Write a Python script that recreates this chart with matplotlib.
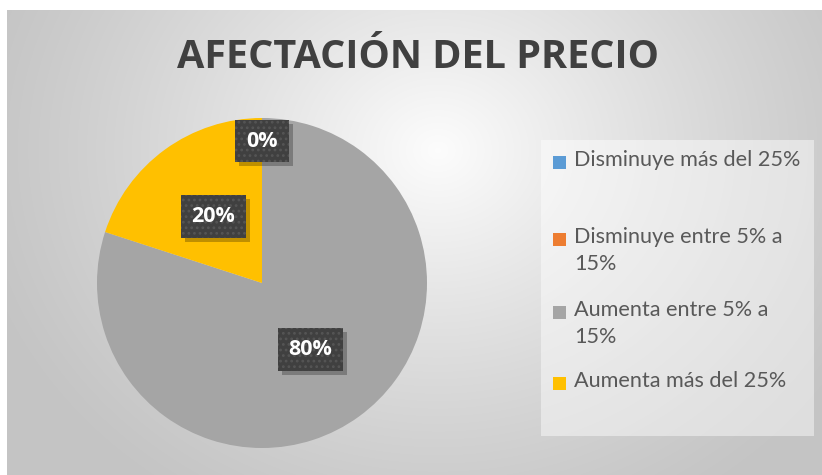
import numpy as np
import matplotlib
matplotlib.use("Agg")
import matplotlib.pyplot as plt
from matplotlib.patches import Rectangle
from matplotlib.transforms import IdentityTransform

categorias = ["Disminuye más del 25%", "Disminuye entre 5% a 15%",
              "Aumenta entre 5% a 15%", "Aumenta más del 25%"]
etiquetas_leyenda = ["Disminuye más del 25%", "Disminuye entre 5% a\n15%",
                     "Aumenta entre 5% a\n15%", "Aumenta más del 25%"]
porcentajes = [0, 0, 80, 20]
colores = ["#5B9BD5", "#ED7D31", "#A5A5A5", "#FFC000"]
titulo = "AFECTACIÓN DEL PRECIO"

plt.rcParams["hatch.linewidth"] = 1.2

W, H = 822, 475
fig = plt.figure(figsize=(W / 100, H / 100), dpi=100)
fig.patch.set_facecolor("white")

# fondo con degradado radial (area del grafico)
x0, y0 = 7, 0
bg = fig.add_axes([x0 / W, y0 / H, (W - x0) / W, (H - 10 - y0) / H])
xx, yy = np.meshgrid(np.arange(W - x0), np.arange(H - 10))
cx, cy = 430, 140
d = np.hypot(xx - cx, (yy - cy) * 1.15)
v = np.clip(1 - d / 480, 0, 1)
g = 0.77 + 0.22 * v ** 1.2
img = np.dstack([g, g, g])
bg.imshow(img, aspect="auto", extent=[0, 1, 1, 0])
bg.set_axis_off()

# titulo
fig.text(418 / W, 1 - 58 / H, titulo, ha="center", va="center",
         fontsize=28.5, fontweight="bold", color="#404040", family="Open Sans")

# pastel
ax = fig.add_axes([97 / W, 27 / H, 330 / W, 330 / H])
wedges, _, autotexts = ax.pie(porcentajes, colors=colores, startangle=90,
                              counterclock=False, radius=1,
                              autopct=lambda p: f"{p:.0f}%", pctdistance=0.5,
                              wedgeprops=dict(linewidth=0))
ax.set_xlim(-1, 1)
ax.set_ylim(-1, 1)
ax.set_aspect("equal")
ax.set_axis_off()

vistos = []
etiquetas = []
for t, val in zip(autotexts, porcentajes):
    if val == 0:
        t.set_position((0.0, 0.86))
    pos = tuple(np.round(t.get_position(), 3))
    if pos in vistos:
        # etiquetas de valor 0 que caen en el mismo sitio
        t.set_visible(False)
        continue
    vistos.append(pos)
    t.set_color("white")
    t.set_fontsize(15.5)
    t.set_fontweight("bold")
    t.set_family("Open Sans")
    t.set_zorder(5)
    t.set_bbox(dict(boxstyle="square,pad=0.5", facecolor="#404040",
                    edgecolor="#555555", hatch="...", linewidth=0))
    etiquetas.append(t)

# sombras de las etiquetas
fig.canvas.draw()
for t in etiquetas:
    bb = t.get_bbox_patch().get_window_extent()
    sombra = Rectangle((bb.x0 + 4, bb.y0 - 4), bb.width, bb.height,
                       transform=IdentityTransform(), facecolor="black",
                       alpha=0.25, edgecolor="none", zorder=4)
    sombra.set_clip_on(False)
    ax.add_artist(sombra)

# leyenda
fig.patches.append(Rectangle((541 / W, 1 - 436 / H), (814 - 541) / W, (436 - 140) / H,
                             transform=fig.transFigure, facecolor="white",
                             alpha=0.45, edgecolor="none"))
y_leyenda = [162, 239, 312, 383]
for lab, col, yp in zip(etiquetas_leyenda, colores, y_leyenda):
    fig.patches.append(Rectangle((553 / W, 1 - (yp + 7) / H), 13 / W, 13 / H,
                                 transform=fig.transFigure, facecolor=col,
                                 edgecolor="none"))
    fig.text(574 / W, 1 - (yp - 12) / H, lab, ha="left", va="top",
             fontsize=15.6, color="#595959", family="Lato", linespacing=1.45)

fig.savefig("out.png", dpi=100)
